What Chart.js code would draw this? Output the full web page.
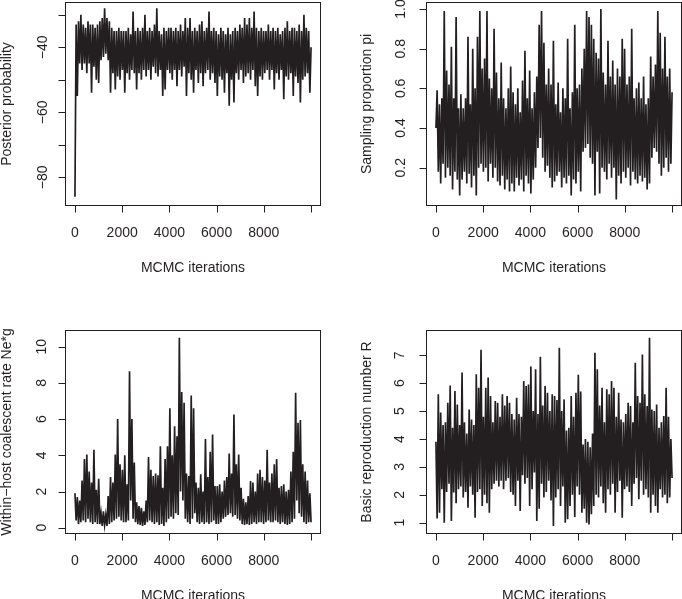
<!DOCTYPE html>
<html>
<head>
<meta charset="utf-8">
<script src="https://cdn.jsdelivr.net/npm/chart.js@4.4.1/dist/chart.umd.min.js"></script>
<style>
  html, body { margin: 0; padding: 0; background: #fff; }
  .page { position: relative; width: 682px; height: 599px; overflow: hidden; }
  .page canvas { position: absolute; left: 0; top: 0; }
</style>
</head>
<body>
<div class="page">
  <canvas id="posterior" width="682" height="599"></canvas>
  <canvas id="sampling" width="682" height="599"></canvas>
  <canvas id="coalescent" width="682" height="599"></canvas>
  <canvas id="reproduction" width="682" height="599"></canvas>
</div>
<script>
// x axis shared by all four traces
const iterTicks = [0, 2000, 4000, 6000, 8000, 10000];
const iterLabels = ['0', '2000', '4000', '6000', '8000'];

// trace values, thinned (peaks and troughs in order)
const posterior = [
  -86, -33, -55, -32, -45, -30, -47, -33, -45, -34, -48, -32, -45, -33, -54, -33, -46, -34, -50, -33,
  -51, -32, -44, -31, -43, -28, -42, -31, -44, -32, -54, -34, -48, -35, -53, -35, -49, -34, -50, -35,
  -47, -35, -54, -35, -48, -34, -50, -36, -47, -29, -48, -35, -53, -34, -48, -35, -50, -34, -47, -30,
  -49, -35, -47, -34, -50, -35, -46, -33, -48, -28, -49, -35, -47, -36, -55, -34, -53, -35, -47, -34,
  -48, -34, -50, -35, -47, -34, -52, -35, -47, -33, -49, -35, -46, -31, -55, -34, -48, -31, -50, -35,
  -54, -34, -47, -35, -51, -33, -48, -32, -52, -35, -48, -34, -47, -29, -50, -35, -48, -34, -51, -35,
  -55, -36, -49, -34, -50, -35, -54, -36, -48, -34, -58, -36, -50, -35, -57, -34, -48, -35, -50, -33,
  -47, -34, -51, -31, -49, -33, -48, -31, -50, -34, -47, -29, -52, -34, -55, -35, -49, -34, -50, -35,
  -48, -35, -47, -33, -50, -35, -47, -34, -53, -35, -48, -34, -50, -36, -47, -35, -56, -34, -49, -32,
  -50, -35, -48, -34, -55, -34, -49, -35, -51, -33, -57, -35, -50, -30, -49, -34, -48, -35, -54, -40
];
const posteriorTicks = [-80, -70, -60, -50, -40, -30];
const posteriorLabels = [-80, -60, -40];

const sampling = [
  0.40, 0.59, 0.18, 0.52, 0.12, 0.55, 0.22, 0.99, 0.15, 0.69, 0.20, 0.62, 0.16, 0.81, 0.09, 0.55, 0.18, 0.96, 0.14, 0.50,
  0.06, 0.57, 0.14, 0.50, 0.18, 0.55, 0.12, 0.86, 0.17, 0.52, 0.10, 0.80, 0.16, 0.60, 0.06, 0.86, 0.20, 0.99, 0.22, 0.70,
  0.18, 0.75, 0.20, 0.99, 0.13, 0.65, 0.22, 0.60, 0.15, 0.90, 0.20, 0.68, 0.13, 0.55, 0.11, 0.73, 0.16, 0.55, 0.09, 0.50,
  0.14, 0.60, 0.08, 0.71, 0.12, 0.58, 0.08, 0.52, 0.15, 0.60, 0.11, 0.48, 0.14, 0.64, 0.08, 0.79, 0.16, 0.55, 0.12, 0.69,
  0.07, 0.50, 0.14, 0.58, 0.20, 0.66, 0.30, 0.92, 0.35, 0.99, 0.25, 0.83, 0.18, 0.62, 0.21, 0.70, 0.15, 0.62, 0.10, 0.84,
  0.13, 0.52, 0.16, 0.63, 0.18, 0.48, 0.10, 0.60, 0.15, 0.55, 0.12, 0.85, 0.16, 0.50, 0.06, 0.58, 0.14, 0.92, 0.12, 0.60,
  0.18, 0.62, 0.08, 0.70, 0.28, 0.80, 0.30, 0.99, 0.32, 0.96, 0.25, 0.92, 0.22, 0.85, 0.06, 0.78, 0.28, 0.75, 0.07, 1.00,
  0.20, 0.68, 0.18, 0.62, 0.14, 0.84, 0.22, 0.66, 0.15, 0.74, 0.20, 0.62, 0.04, 0.70, 0.16, 0.66, 0.12, 0.85, 0.18, 0.80,
  0.15, 0.62, 0.20, 0.66, 0.11, 0.90, 0.18, 0.55, 0.14, 0.60, 0.12, 0.63, 0.16, 0.55, 0.13, 0.66, 0.15, 0.52, 0.09, 0.55,
  0.12, 0.76, 0.25, 0.66, 0.30, 0.72, 0.28, 0.99, 0.22, 0.88, 0.16, 0.70, 0.20, 0.86, 0.25, 0.66, 0.18, 0.70, 0.22, 0.58
];
const samplingTicks = [0.2, 0.4, 0.6, 0.8, 1.0];
const samplingLabels = ['0.2', '0.4', '0.6', '0.8', '1.0'];

const coalescent = [
  1.9, 0.4, 1.7, 0.2, 1.5, 0.3, 2.6, 0.4, 3.8, 0.3, 4.05, 0.5, 3.1, 0.3, 2.5, 0.2, 4.3, 0.3, 2.1, 0.2,
  2.7, 0.2, 0.8, 0.1, 0.9, 0.15, 0.7, 0.1, 1.75, 0.2, 2.8, 0.3, 2.5, 0.4, 4.05, 0.5, 6.0, 0.6, 3.5, 0.4,
  3.2, 0.3, 4.0, 0.3, 2.4, 0.4, 8.65, 1.5, 6.0, 0.5, 3.6, 0.3, 1.4, 0.2, 1.2, 0.15, 1.1, 0.1, 0.9, 0.15,
  1.5, 0.3, 3.9, 0.4, 3.2, 0.3, 2.85, 0.2, 3.0, 0.3, 2.9, 0.15, 4.5, 0.2, 2.2, 0.1, 3.8, 0.3, 4.5, 0.5,
  6.6, 0.6, 4.0, 0.5, 5.6, 0.8, 5.05, 0.7, 10.5, 2.0, 7.5, 1.5, 6.9, 0.5, 3.0, 0.3, 2.85, 0.2, 7.3, 0.5,
  6.6, 0.8, 2.5, 0.3, 2.2, 0.2, 2.95, 0.3, 2.0, 0.2, 4.9, 0.3, 2.8, 0.2, 4.2, 0.3, 5.15, 0.4, 2.3, 0.2,
  2.3, 0.2, 2.4, 0.3, 2.0, 0.5, 2.6, 0.6, 2.8, 0.7, 4.1, 0.8, 3.0, 0.6, 6.26, 0.7, 3.5, 0.5, 4.05, 0.4,
  2.2, 0.2, 1.6, 0.15, 1.4, 0.2, 1.75, 0.15, 2.58, 0.2, 2.5, 0.3, 2.0, 0.2, 3.0, 0.3, 3.2, 0.3, 2.8, 0.2,
  2.6, 0.3, 4.3, 0.4, 2.5, 0.3, 3.0, 0.3, 3.5, 0.4, 3.8, 0.3, 2.2, 0.2, 2.3, 0.3, 2.4, 0.2, 2.0, 0.15,
  2.1, 0.2, 3.1, 0.3, 4.2, 0.5, 7.46, 1.5, 5.8, 0.8, 5.95, 0.6, 3.5, 0.3, 3.1, 0.2, 2.6, 0.3, 1.9, 0.3
];
const coalescentTicks = [0, 2, 4, 6, 8, 10];
const coalescentLabels = ['0', '2', '4', '6', '8', '10'];

const reproduction = [
  3.9, 1.15, 5.6, 1.36, 4.95, 2.2, 4.5, 1.0, 4.6, 2.1, 5.3, 2.4, 5.92, 1.06, 4.4, 2.08, 5.72, 1.7, 5.24, 2.2,
  4.5, 2.3, 6.38, 1.9, 4.6, 2.1, 4.2, 1.54, 5.06, 2.3, 4.7, 2.0, 4.5, 1.18, 6.32, 2.1, 5.84, 2.2, 7.2, 1.6,
  4.8, 2.0, 5.84, 1.7, 6.2, 1.36, 5.54, 2.2, 4.6, 2.4, 5.36, 2.5, 5.3, 2.3, 4.8, 2.5, 5.6, 2.2, 5.2, 2.5,
  5.54, 2.6, 5.3, 2.1, 4.9, 2.0, 4.7, 1.6, 5.48, 2.5, 4.9, 1.42, 4.8, 2.7, 6.08, 2.4, 5.9, 2.6, 5.95, 1.6,
  6.6, 2.2, 5.0, 2.8, 6.5, 1.06, 4.9, 1.5, 6.95, 2.4, 5.2, 1.9, 5.9, 2.1, 5.66, 2.5, 5.0, 1.8, 5.6, 0.88,
  5.54, 1.9, 5.4, 2.2, 7.27, 1.6, 5.0, 2.3, 5.42, 1.0, 4.3, 1.12, 4.4, 1.6, 5.54, 2.0, 4.8, 1.2, 5.66, 2.3,
  6.3, 2.0, 5.7, 1.36, 3.8, 1.5, 4.0, 1.0, 3.9, 0.94, 3.7, 1.3, 4.2, 1.6, 7.09, 2.0, 6.5, 1.9, 5.2, 2.3,
  5.84, 1.7, 4.6, 1.36, 5.78, 2.2, 5.6, 2.0, 6.08, 2.4, 5.84, 1.36, 4.8, 2.1, 5.66, 2.5, 4.7, 1.18, 4.6, 2.2,
  4.9, 2.3, 5.3, 2.1, 5.18, 1.6, 4.6, 2.4, 6.73, 2.6, 5.54, 1.84, 5.3, 2.5, 7.03, 2.0, 5.6, 2.2, 5.18, 1.9,
  7.63, 1.36, 5.06, 2.0, 5.0, 1.6, 5.24, 1.36, 4.4, 2.2, 4.6, 1.9, 4.82, 2.0, 5.84, 1.7, 4.8, 1.9, 4.0, 2.6
];
const reproductionTicks = [1, 2, 3, 4, 5, 6, 7];
const reproductionLabels = ['1', '2', '3', '4', '5', '6', '7'];

const ink = '#231f20';
const font = '14px "Liberation Sans", Arial, Helvetica, sans-serif';

// samples are evenly thinned over the 10000 iterations
const toPoints = values => values.map((v, i) => ({ x: i * 10000 / (values.length - 1), y: v }));

// R prints negative tick labels with a real minus sign
const fmt = label => String(label).replace('-', '\u2212');

// R style box + axes, drawn off the chart's own scales
const rAxes = cfg => ({
  id: 'rAxes',
  afterDraw(chart) {
    const { ctx, chartArea: a, scales: { x, y } } = chart;
    ctx.save();
    ctx.strokeStyle = ink;
    ctx.fillStyle = ink;
    ctx.lineWidth = 1;
    ctx.strokeRect(a.left, a.top, a.right - a.left, a.bottom - a.top);

    ctx.beginPath();
    const xs = iterTicks.map(t => Math.round(x.getPixelForValue(t)) + 0.5);
    ctx.moveTo(xs[0], a.bottom);
    ctx.lineTo(xs[xs.length - 1], a.bottom);
    xs.forEach(px => { ctx.moveTo(px, a.bottom); ctx.lineTo(px, a.bottom + 7); });

    const ys = cfg.yTicks.map(t => Math.round(y.getPixelForValue(t)) + 0.5);
    ctx.moveTo(a.left, ys[0]);
    ctx.lineTo(a.left, ys[ys.length - 1]);
    ys.forEach(py => { ctx.moveTo(a.left, py); ctx.lineTo(a.left - 7, py); });
    ctx.stroke();

    ctx.font = font;
    ctx.textAlign = 'center';
    ctx.textBaseline = 'alphabetic';
    iterLabels.forEach((t, i) => ctx.fillText(t, x.getPixelForValue(iterTicks[i]), a.bottom + 31));
    ctx.fillText('MCMC iterations', (a.left + a.right) / 2, a.bottom + 66);

    cfg.yLabels.forEach(v => {
      ctx.save();
      ctx.translate(cfg.labelX, y.getPixelForValue(Number(v)));
      ctx.rotate(-Math.PI / 2);
      ctx.fillText(fmt(v), 0, 0);
      ctx.restore();
    });

    ctx.save();
    ctx.translate(cfg.titleX, (a.top + a.bottom) / 2);
    ctx.rotate(-Math.PI / 2);
    ctx.fillText(cfg.title, 0, 0);
    ctx.restore();

    ctx.restore();
  }
});

const makeTrace = (id, values, cfg) => new Chart(document.getElementById(id), {
  type: 'line',
  data: {
    datasets: [{
      data: toPoints(values),
      borderColor: ink,
      borderWidth: 1.7,
      borderJoinStyle: 'miter',
      pointRadius: 0,
      tension: 0,
      fill: false
    }]
  },
  options: {
    responsive: false,
    animation: false,
    events: [],
    layout: { padding: cfg.padding },
    plugins: { legend: { display: false }, tooltip: { enabled: false } },
    scales: {
      x: { type: 'linear', min: -400, max: 10400, display: false },
      y: { type: 'linear', min: cfg.min, max: cfg.max, display: false }
    }
  },
  plugins: [rAxes(cfg)]
});

makeTrace('posterior', posterior, {
  title: 'Posterior probability',
  yTicks: posteriorTicks, yLabels: posteriorLabels,
  min: -88.68, max: -26.22,
  padding: { left: 65.5, top: 2.5, right: 361.5, bottom: 393.5 },
  labelX: 46.5, titleX: 10.5
});

makeTrace('sampling', sampling, {
  title: 'Sampling proportion pi',
  yTicks: samplingTicks, yLabels: samplingLabels,
  min: 0.0095, max: 1.0328,
  padding: { left: 426.5, top: 2.5, right: 0.5, bottom: 393.5 },
  labelX: 404.5, titleX: 371
});

makeTrace('coalescent', coalescent, {
  title: 'Within\u2212host coalescent rate Ne*g',
  yTicks: coalescentTicks, yLabels: coalescentLabels,
  min: -0.32, max: 10.895,
  padding: { left: 65.5, top: 330.5, right: 361.5, bottom: 65.5 },
  labelX: 46, titleX: 10.5
});

makeTrace('reproduction', reproduction, {
  title: 'Basic reproduction number R',
  yTicks: reproductionTicks, yLabels: reproductionLabels,
  min: 0.613, max: 7.889,
  padding: { left: 426.5, top: 330.5, right: 0.5, bottom: 65.5 },
  labelX: 403.5, titleX: 371
});
</script>
</body>
</html>
